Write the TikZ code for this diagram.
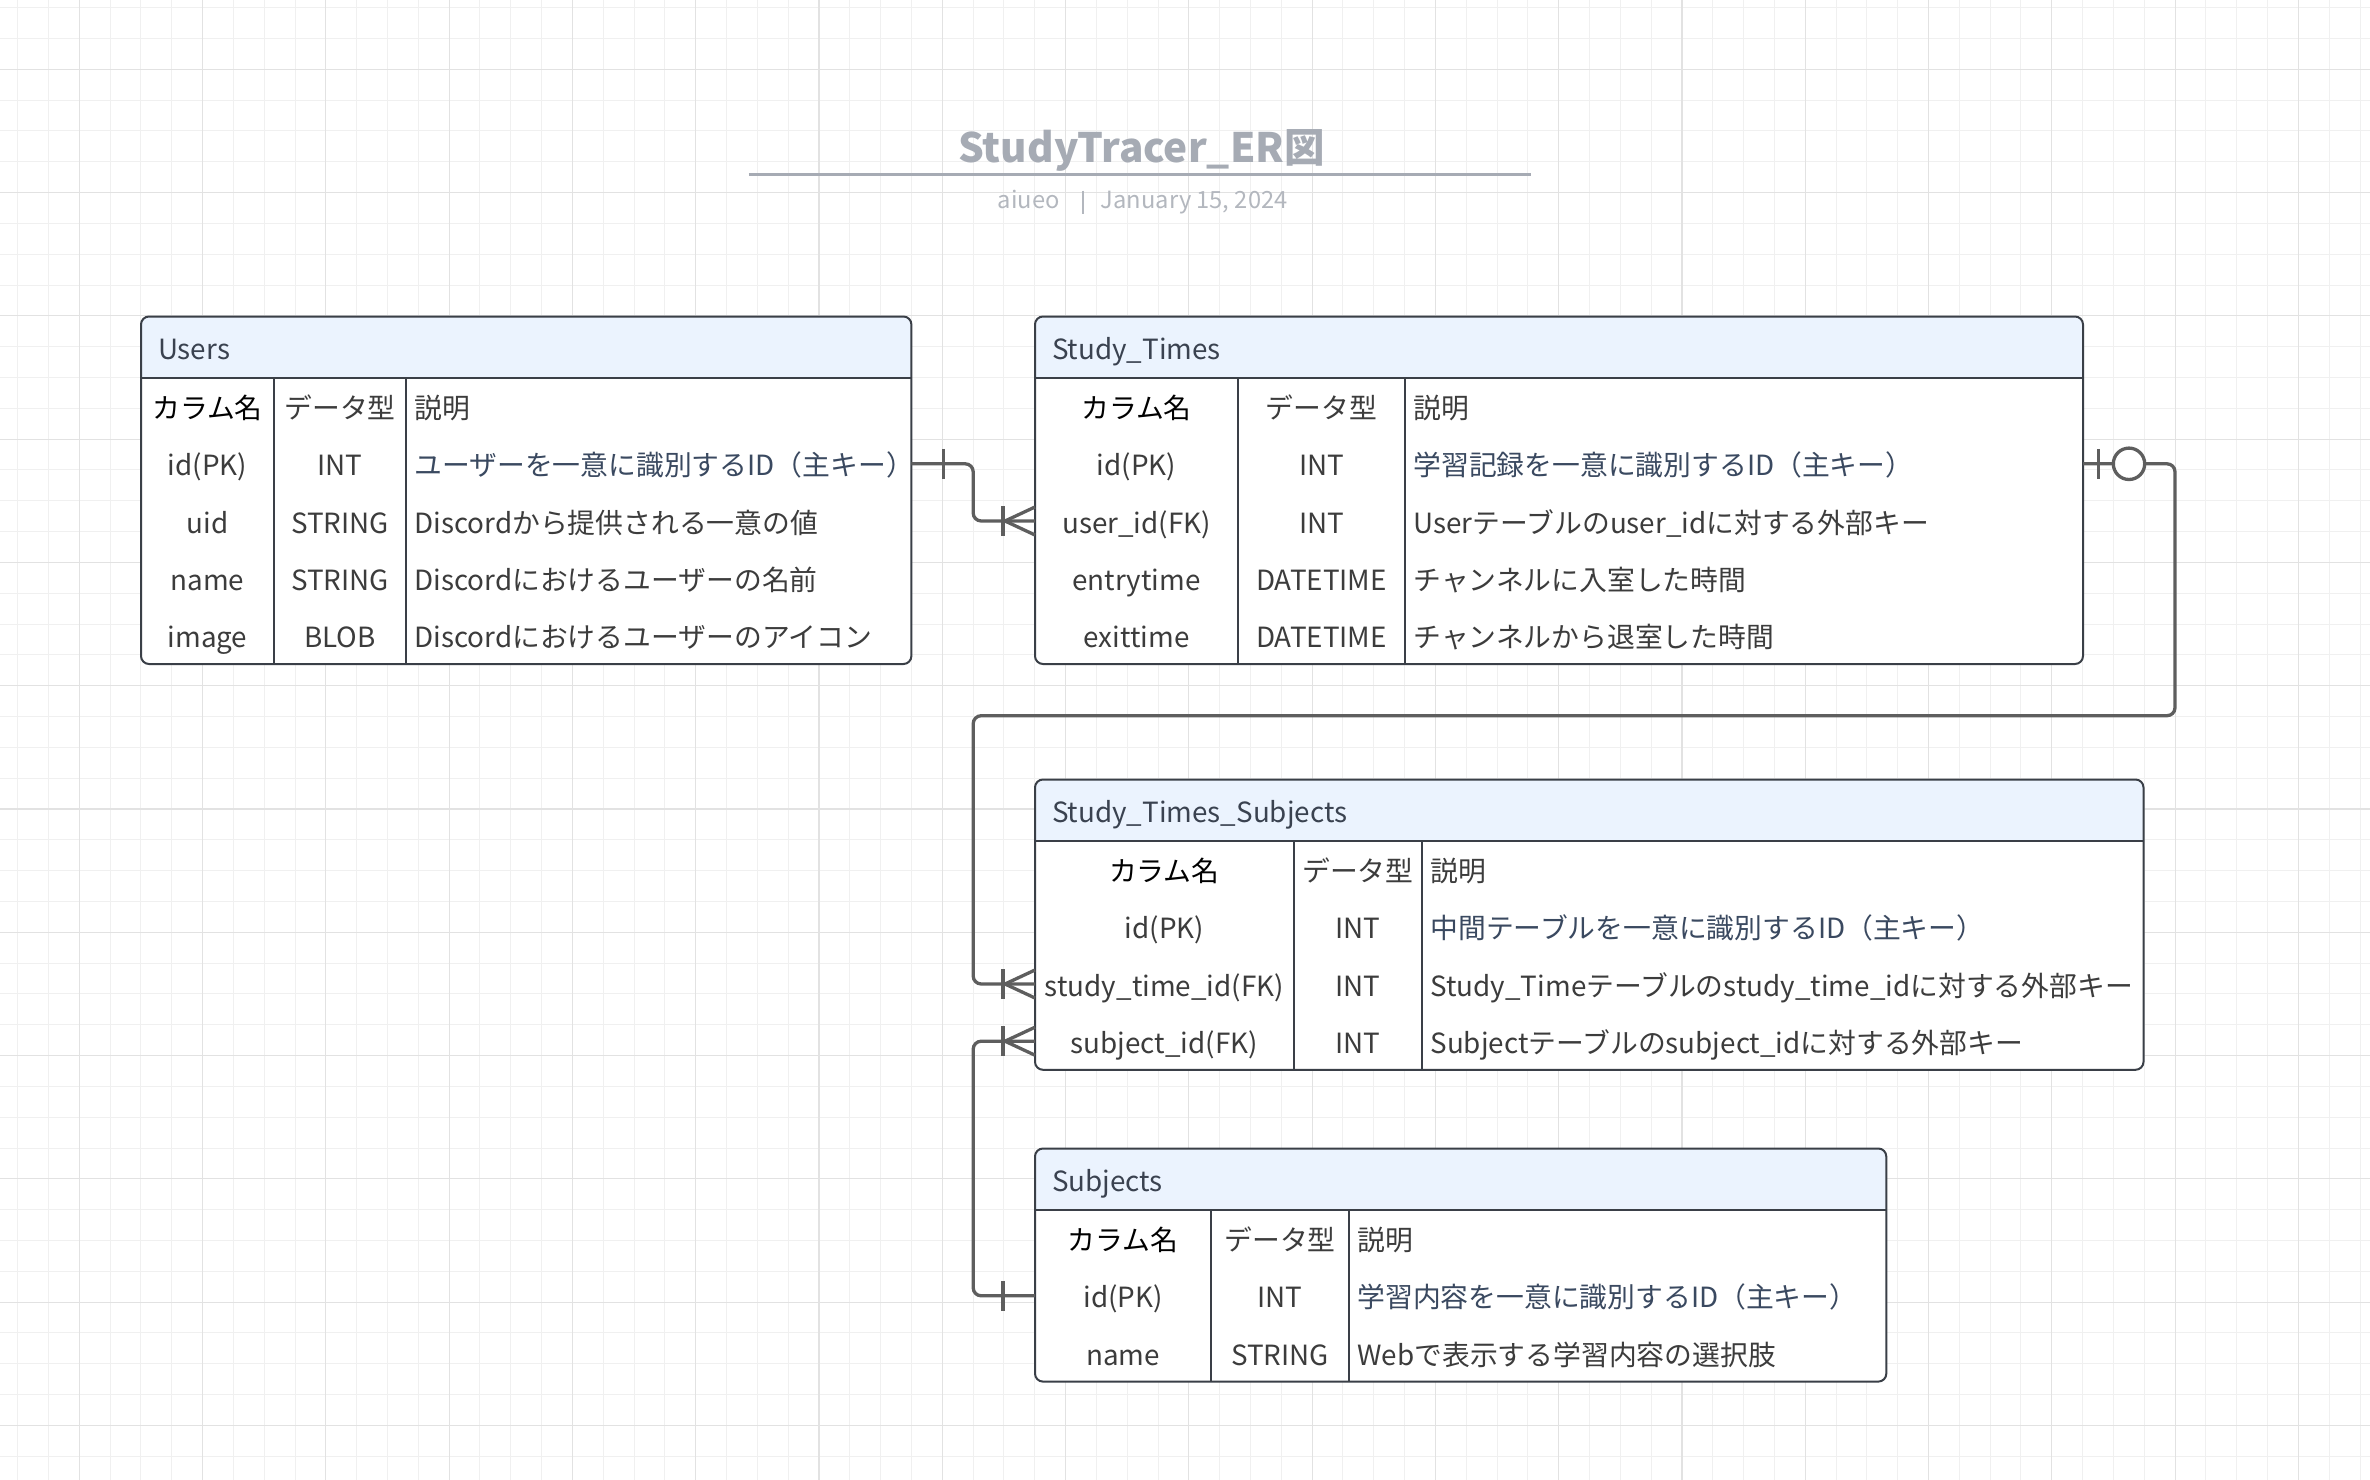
\documentclass[tikz,border=0pt]{standalone}
\usepackage{fontspec}
\setmainfont{Noto Sans CJK JP}
\usetikzlibrary{calc}
\definecolor{gminor}{HTML}{F0F0F0}
\definecolor{gmajor}{HTML}{E2E2E2}
\definecolor{hdrfill}{HTML}{EBF3FE}
\definecolor{tborder}{HTML}{3A3F47}
\definecolor{txt}{HTML}{3C3C3C}
\definecolor{txtpk}{HTML}{3A4960}
\definecolor{hdrtxt}{HTML}{3A4250}
\definecolor{conn}{HTML}{5E5E5E}
\definecolor{titlec}{HTML}{A6ABB4}
\definecolor{subc}{HTML}{B3B7BE}
\newcommand\cellfont{\fontsize{27.8}{33}\selectfont}
\newcommand\titlefont{\fontsize{40.5}{48}\selectfont\bfseries}
\newcommand\subfont{\fontsize{23.7}{28}\selectfont}
\tikzset{
  gridminor/.style={draw=gminor, line width=1pt},
  gridmajor/.style={draw=gmajor, line width=1.1pt},
  tablebody/.style={fill=white, draw=none, anchor=north west, inner sep=0pt, outer sep=0pt, rounded corners=8pt},
  tableframe/.style={draw=tborder, line width=2pt, rounded corners=8pt},
  divline/.style={draw=tborder, line width=2pt},
  cell/.style={inner sep=0pt, outer sep=0pt, minimum height=57.2pt, text height=24pt, text depth=0pt, font=\cellfont, text=txt},
  hdrtext/.style={cell, anchor=west, text=hdrtxt},
  desc/.style={cell, anchor=west},
  pkdesc/.style={cell, anchor=west, text=txtpk},
  connline/.style={draw=conn, line width=3.3pt, rounded corners=8pt},
  connmark/.style={draw=conn, line width=3.3pt},
  titletext/.style={font=\titlefont, text=titlec, inner sep=0pt, anchor=base},
  subtext/.style={font=\subfont, text=subc, inner sep=0pt},
}
% table: #1 name, #2 left, #3 top, #4 right, #5 divider1, #6 divider2, #7 body rows, #8 title
\newcommand\ertable[8]{%
  \def\curName{#1}\def\curL{#2}\def\curT{#3}\def\curDa{#5}\def\curDb{#6}%
  \pgfmathsetmacro\erbot{#3+61.5+57.2*#7}%
  \pgfmathsetmacro\erhb{#3+61.5}%
  \pgfmathsetmacro\erw{#4-#2}%
  \pgfmathsetmacro\erh{\erbot-#3}%
  \node[tablebody, minimum width=\erw pt, minimum height=\erh pt] (#1) at (#2,#3) {};
  \begin{scope}
    \clip[rounded corners=8pt] (#1.north west) rectangle (#1.south east);
    \fill[hdrfill] (#2,#3) rectangle (#4,\erhb);
  \end{scope}
  \draw[divline] (#2,\erhb) -- (#4,\erhb);
  \draw[divline] (#5,\erhb) -- (#5,\erbot);
  \draw[divline] (#6,\erhb) -- (#6,\erbot);
  \draw[tableframe] (#1.north west) rectangle (#1.south east);
  \node[hdrtext] (#1-title) at (#2+17,#3+30.75) {#8};
}
% row: #1 index, #2 col1, #3 col2, #4 col3, #5 style of col3
\newcommand\errow[5]{%
  \pgfmathsetmacro\ery{\curT+61.5+57.2*(#1+0.5)}%
  \pgfmathsetmacro\erxa{(\curL+\curDa)/2}%
  \pgfmathsetmacro\erxb{(\curDa+\curDb)/2}%
  \pgfmathsetmacro\erxc{\curDb+8.5}%
  \node[cell] (\curName-#1a) at (\erxa,\ery) {#2};
  \node[cell] (\curName-#1b) at (\erxb,\ery) {#3};
  \node[#5] (\curName-#1c) at (\erxc,\ery) {#4};
}
\newcommand\crowW[1]{%
  \draw[connmark] ($(#1)+(-30,0)$) -- ($(#1)+(0,-14)$);
  \draw[connmark] ($(#1)+(-30,0)$) -- ($(#1)+(0,14)$);
  \draw[connmark] ($(#1)+(-32,-15)$) -- ($(#1)+(-32,15)$);
}
\newcommand\barmark[2]{%
  \draw[connmark] ($(#1)+(#2,-15)$) -- ($(#1)+(#2,15)$);
}
\begin{document}
\begin{tikzpicture}[x=1pt,y=-1pt]
\useasboundingbox (0,0) rectangle (2370,1480);
\fill[white] (0,0) rectangle (2370,1480);
% grid
\foreach \i in {0,...,76} \draw[gridminor] ({17.66+30.82*\i},0) -- ({17.66+30.82*\i},1480);
\foreach \j in {0,...,47} \draw[gridminor] (0,{7.66+30.82*\j}) -- (2370,{7.66+30.82*\j});
\foreach \i in {0,...,18} \draw[gridmajor] ({79.3+123.28*\i},0) -- ({79.3+123.28*\i},1480);
\foreach \j in {0,...,11} \draw[gridmajor] (0,{69.3+123.28*\j}) -- (2370,{69.3+123.28*\j});

% title
\node[titletext] (title) at (1141.5,162.7) {StudyTracer\_ER図};
\draw[titlec, line width=3pt] (748.8,174) -- (1531,174);
\node[subtext, anchor=base] (author) at (1028.7,208.3) {aiueo};
\draw[subc, line width=1.6pt] (1083,190.7) -- (1083,214.3);
\node[subtext, anchor=base west] (date) at (1100.7,208.3) {January 15, 2024};

% Users
\ertable{users}{141}{316.5}{911.4}{274}{406}{5}{Users}
\errow{0}{\textcolor{black}{カラム名}}{データ型}{説明}{desc}
\errow{1}{id(PK)}{INT}{ユーザーを一意に識別するID（主キー）}{pkdesc}
\errow{2}{uid}{STRING}{Discordから提供される一意の値}{desc}
\errow{3}{name}{STRING}{Discordにおけるユーザーの名前}{desc}
\errow{4}{image}{BLOB}{Discordにおけるユーザーのアイコン}{desc}

% Study_Times
\ertable{st}{1035}{316.5}{2083}{1238}{1405}{5}{Study\_Times}
\errow{0}{\textcolor{black}{カラム名}}{データ型}{説明}{desc}
\errow{1}{id(PK)}{INT}{学習記録を一意に識別するID（主キー）}{pkdesc}
\errow{2}{user\_id(FK)}{INT}{Userテーブルのuser\_idに対する外部キー}{desc}
\errow{3}{entrytime}{DATETIME}{チャンネルに入室した時間}{desc}
\errow{4}{exittime}{DATETIME}{チャンネルから退室した時間}{desc}

% Study_Times_Subjects
\ertable{sts}{1035}{779.5}{2143.5}{1293.7}{1422}{4}{Study\_Times\_Subjects}
\errow{0}{\textcolor{black}{カラム名}}{データ型}{説明}{desc}
\errow{1}{id(PK)}{INT}{中間テーブルを一意に識別するID（主キー）}{pkdesc}
\errow{2}{study\_time\_id(FK)}{INT}{Study\_Timeテーブルのstudy\_time\_idに対する外部キー}{desc}
\errow{3}{subject\_id(FK)}{INT}{Subjectテーブルのsubject\_idに対する外部キー}{desc}

% Subjects
\ertable{subj}{1035}{1148.5}{1886.3}{1211}{1349}{3}{Subjects}
\errow{0}{\textcolor{black}{カラム名}}{データ型}{説明}{desc}
\errow{1}{id(PK)}{INT}{学習内容を一意に識別するID（主キー）}{pkdesc}
\errow{2}{name}{STRING}{Webで表示する学習内容の選択肢}{desc}

% connectors
\coordinate (busx) at ($(users.east)!0.5!(st.west)$);
\coordinate (loopR) at ($(st.east)+(92,0)$);
\coordinate (loopB) at (0,715.7);

% Users.id -> Study_Times.user_id
\coordinate (u1) at (users.east |- users-1a);
\coordinate (s2) at (st.west |- st-2a);
\draw[connline] (u1) -- (busx |- u1) -- (busx |- s2) -- (s2);
\barmark{u1}{32}
\crowW{s2}

% Study_Times.id -> Study_Times_Subjects.study_time_id
\coordinate (s1) at (st.east |- st-1a);
\coordinate (t2) at (sts.west |- sts-2a);
\draw[connline] (s1) -- (loopR |- s1) -- (loopR |- loopB) -- (busx |- loopB) -- (busx |- t2) -- (t2);
\barmark{s1}{15.3}
\draw[connmark, fill=white] ($(s1)+(46,0)$) circle[radius=15.7];
\crowW{t2}

% Subjects.id -> Study_Times_Subjects.subject_id
\coordinate (j1) at (subj.west |- subj-1a);
\coordinate (t3) at (sts.west |- sts-3a);
\draw[connline] (j1) -- (busx |- j1) -- (busx |- t3) -- (t3);
\barmark{j1}{-32}
\crowW{t3}
\end{tikzpicture}
\end{document}
